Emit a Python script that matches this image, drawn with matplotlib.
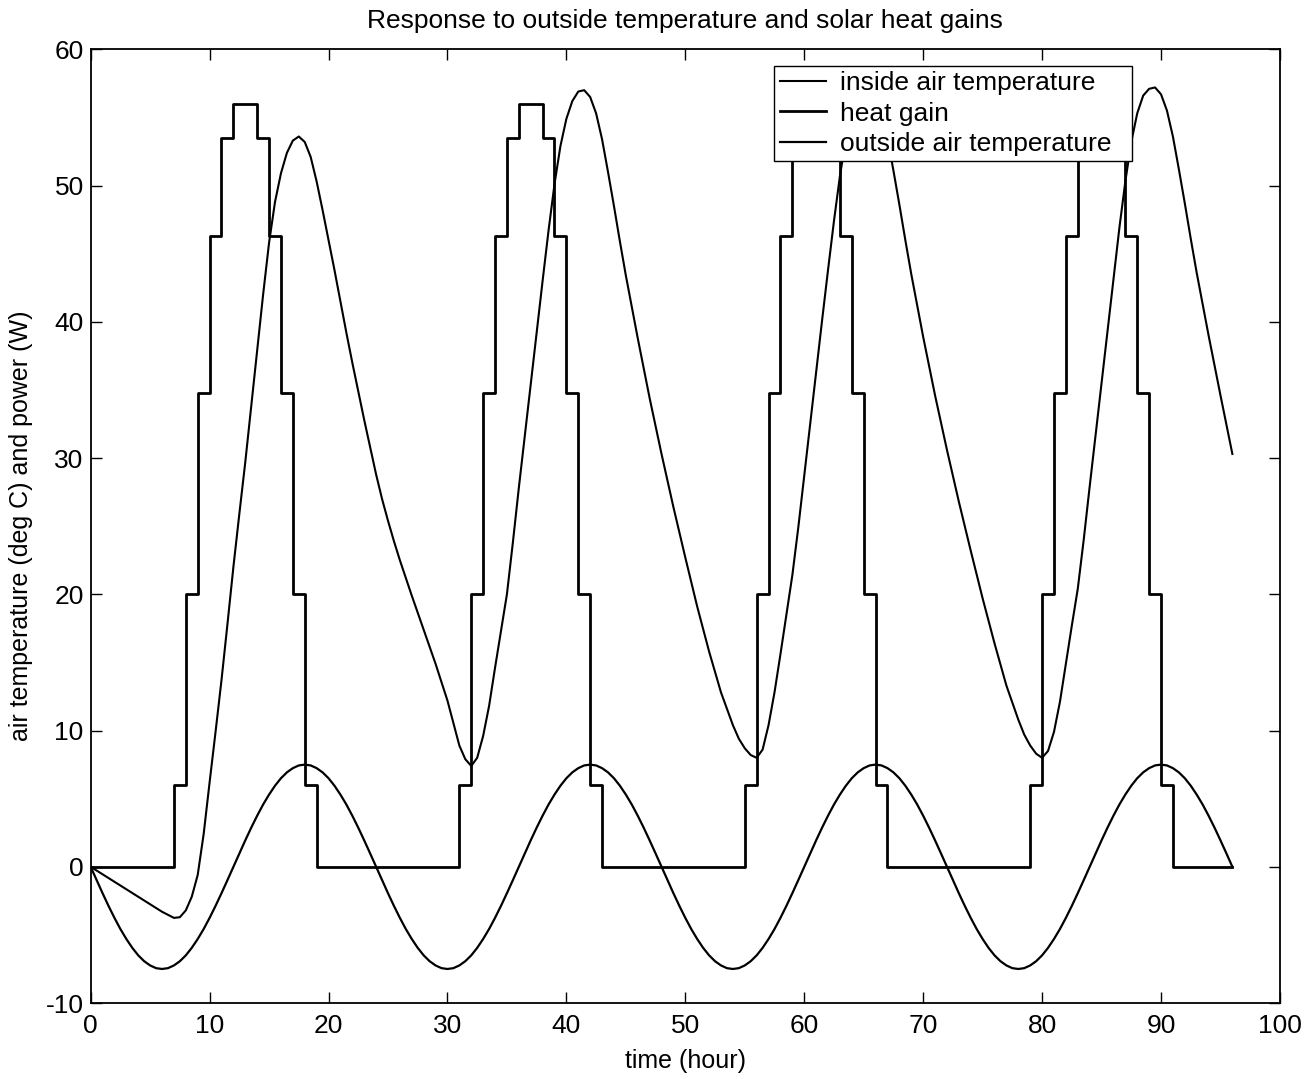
import numpy as np
import matplotlib
matplotlib.use('Agg')
import matplotlib.pyplot as plt

plt.rcParams['font.family'] = ['Liberation Sans', 'DejaVu Sans']
plt.rcParams['axes.unicode_minus'] = False

# hourly heat gain for one day (W), repeated for 4 days
heat_day = [0, 0, 0, 0, 0, 0, 0, 6, 20, 34.8, 46.3, 53.5,
            56, 56, 53.5, 46.3, 34.8, 20, 6, 0, 0, 0, 0, 0]
n_days = 4

# outside air temperature, one day at half-hour steps (deg C)
outside_day = [0, -0.98, -1.94, -2.87, -3.75, -4.57, -5.30, -5.95, -6.50, -6.93, -7.24, -7.44,
               -7.50, -7.44, -7.24, -6.93, -6.50, -5.95, -5.30, -4.57, -3.75, -2.87, -1.94, -0.98,
               0, 0.98, 1.94, 2.87, 3.75, 4.57, 5.30, 5.95, 6.50, 6.93, 7.24, 7.44,
               7.50, 7.44, 7.24, 6.93, 6.50, 5.95, 5.30, 4.57, 3.75, 2.87, 1.94, 0.98]

# inside air temperature (hour, deg C)
inside_t = [0, 1, 2, 3, 4, 5, 6, 7, 7.5, 8, 8.5, 9, 9.5, 10, 10.5, 11, 11.5, 12, 12.5, 13,
            13.5, 14, 14.5, 15, 15.5, 16, 16.5, 17, 17.5, 18, 18.5, 19, 19.5, 20, 20.5, 21,
            21.5, 22, 22.5, 23, 23.5, 24, 24.5, 25, 25.5, 26, 26.5, 27, 28, 29, 30, 31, 31.5,
            32, 32.5, 33, 33.5, 34, 34.5, 35, 35.5, 36, 36.5, 37, 37.5, 38, 38.5, 39, 39.5,
            40, 40.5, 41, 41.5, 42, 42.5, 43, 43.5, 44, 44.5, 45, 46, 47, 48, 49, 50, 51, 52,
            53, 54, 54.5, 55, 55.5,
            56, 56.5, 57, 57.5, 58, 58.5, 59, 59.5, 60, 60.5, 61, 61.5, 62, 62.5, 63, 63.5,
            64, 64.5, 65, 65.5, 66, 66.5, 67, 67.5, 68, 68.5, 69, 70, 71, 72, 73, 74, 75, 76,
            77, 78, 78.5, 79, 79.5,
            80, 80.5, 81, 81.5, 82, 82.5, 83, 83.5, 84, 84.5, 85, 85.5, 86, 86.5, 87, 87.5,
            88, 88.5, 89, 89.5, 90, 90.5, 91, 91.5, 92, 92.5, 93, 94, 95, 96]
inside_temp = [0, -0.55, -1.1, -1.65, -2.2, -2.75, -3.3, -3.75, -3.7, -3.2, -2.2, -0.6, 2.4,
               6.2, 9.9, 13.7, 17.8, 22.0, 25.9, 29.7, 33.8, 37.9, 42.0, 45.8, 48.8, 50.9,
               52.4, 53.3, 53.6, 53.2, 52.1, 50.3, 48.2, 46.0, 43.8, 41.5, 39.2, 37.0, 34.9,
               32.8, 30.8, 28.8, 27.0, 25.4, 23.9, 22.5, 21.2, 19.9, 17.4, 14.9, 12.2, 8.9,
               7.9,
               7.4, 8.0, 9.6, 11.8, 14.6, 17.3, 20.0, 23.8, 27.8, 31.6, 35.4, 39.2, 43.0,
               46.7, 50.1, 52.9, 54.9, 56.2, 56.9, 57.0, 56.5, 55.3, 53.4, 51.0, 48.5, 45.9,
               43.4, 38.8, 34.4, 30.3, 26.4, 22.7, 19.1, 15.8, 12.8, 10.4, 9.4, 8.7, 8.2,
               8.0, 8.6, 10.4, 12.8, 15.6, 18.5, 21.4, 24.9, 28.7, 32.5, 36.3, 40.1, 43.8,
               47.4, 50.7, 53.4, 55.3, 56.5, 57.1, 57.1, 56.6, 55.4, 53.5, 51.1, 48.6, 46.0,
               43.5, 38.9, 34.6, 30.6, 26.8, 23.2, 19.7, 16.4, 13.3, 10.8, 9.7, 8.9, 8.3,
               8.0, 8.5, 9.9, 12.1, 14.9, 17.7, 20.4, 24.0, 27.9, 31.7, 35.5, 39.3, 43.1,
               46.9, 50.3, 53.2, 55.3, 56.6, 57.1, 57.2, 56.7, 55.5, 53.6, 51.2, 48.7, 46.1,
               43.6, 39.0, 34.6, 30.3]

heat_t = np.arange(0, 24 * n_days + 1)
heat = np.append(np.tile(heat_day, n_days), 0)
out_t = np.arange(0, 24 * n_days + 0.5, 0.5)
outside = np.append(np.tile(outside_day, n_days), 0)

fig = plt.figure(figsize=(13.16, 10.79), dpi=100)
ax = fig.add_axes([0.0689, 0.0704, 0.9037, 0.8839])

ax.plot(inside_t, inside_temp, color='k', lw=1.5, solid_joinstyle='round',
        label='inside air temperature')
ax.plot(heat_t, heat, color='k', lw=2.0, drawstyle='steps-post', label='heat gain')
ax.plot(out_t, outside, color='k', lw=1.6, solid_joinstyle='round',
        label='outside air temperature')

ax.set_xlim(0, 100)
ax.set_ylim(-10, 60)
ax.set_xticks(np.arange(0, 101, 10))
ax.set_yticks(np.arange(-10, 61, 10))
ax.tick_params(direction='in', length=8, width=1, top=True, right=True,
               labelsize=19, colors='k')
ax.tick_params(axis='x', pad=8)
ax.tick_params(axis='y', pad=5)
for s in ax.spines.values():
    s.set_linewidth(1.3)

ax.set_title('Response to outside temperature and solar heat gains', fontsize=19, pad=15)
ax.set_xlabel('time (hour)', fontsize=18, labelpad=8)
ax.set_ylabel('air temperature (deg C) and power (W)', fontsize=18, labelpad=9)

handles, labels = ax.get_legend_handles_labels()
leg = ax.legend(handles, [lab + '  ' for lab in labels],
                loc='upper right', bbox_to_anchor=(0.8756, 0.9825), borderaxespad=0,
                fontsize=19, fancybox=False, framealpha=1, edgecolor='k',
                handlelength=1.75, handletextpad=0.56, labelspacing=0.237, borderpad=0.2)
leg.get_frame().set_linewidth(1.0)

fig.savefig('out.png', dpi=100)
